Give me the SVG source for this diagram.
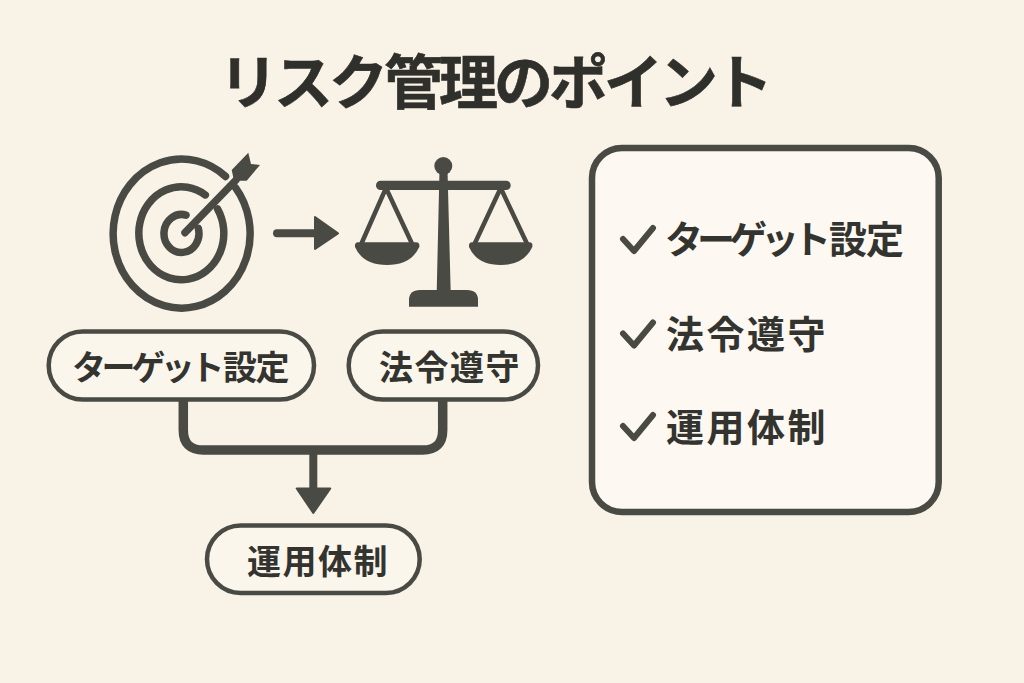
<svg xmlns="http://www.w3.org/2000/svg" width="1024" height="683" viewBox="0 0 1024 683">
<style>
text{font-family:"Noto Sans CJK JP","Noto Sans CJK SC",sans-serif;font-weight:700;fill:#33332f}
.title{font-size:59px;font-weight:700;letter-spacing:-4px;fill:#2f2f2b;stroke:#2f2f2b;stroke-width:.6}
.pt{font-size:34px}
.lt{font-size:38px}
.pill{fill:#fbf6ec;stroke:#4a4a45;stroke-width:4.5}
.ink{fill:#4a4a45}
.line{fill:none;stroke:#4a4a45;stroke-linecap:round;stroke-linejoin:round}
.ring{fill:none;stroke:#4a4a45;stroke-width:7.5;stroke-linecap:round}
</style>
<rect width="1024" height="683" fill="#f9f3e7"/>
<text id="title" class="title" x="219" y="104">リスク管理のポイント</text>
<g id="target-icon">
<path class="ring" d="M225.5 176.4A68.5 74.5 0 1 0 235.5 187.6"/>
<path class="ring" d="M205.3 194.9A42.5 46.5 0 1 0 217.5 208.9"/>
<path class="ring" d="M186 215.1A17.5 19 0 1 0 198.3 228.3"/>
<path class="line" stroke-width="7.5" d="M185 232.7L236 180"/>
<path class="ink" d="M248.3 152.7L251 164L260 165L246.7 180.7L234 180.7L231.7 170Z"/>
</g>
<g id="scale-icon">
<circle class="ink" cx="443.3" cy="166" r="9"/>
<path class="ink" d="M439.5 170H447.5L450.7 292H436.7Z"/>
<rect class="ink" x="376" y="180.7" width="134.7" height="9.3" rx="4.6"/>
<path class="ink" d="M409 306.7V300Q409 290 420 290H467Q478 290 478 300V306.7Z"/>
<path class="line" stroke-width="4.5" d="M361.7 243L386 188L411.7 243"/>
<path class="line" stroke-width="4.5" d="M475 243L500.7 188L526.7 243"/>
<path class="ink" d="M358 242.3H416Q420 242.3 419.3 247Q411 265 387 265Q363 265 355 247Q354.5 242.3 358 242.3Z"/>
<path class="ink" d="M472 242.3H529.5Q533 242.3 532.3 247Q524 265 500.7 265Q477 265 469 247Q468.5 242.3 472 242.3Z"/>
</g>
<g id="connectors">
<g id="icon-arrow">
<path class="line" stroke-width="8" d="M277 233.3H318"/>
<path class="ink" stroke="#4a4a45" stroke-width="2" stroke-linejoin="round" d="M315 217L338 233.3L315 249Z"/>
</g>
<path class="line" stroke-width="9.5" d="M183.3 400V430Q183.3 450 203.3 450H422.7Q442.7 450 442.7 430V400" stroke-linecap="butt"/>
<path class="line" stroke-width="8" stroke-linecap="butt" d="M313.3 450V490"/>
<path class="ink" stroke="#4a4a45" stroke-width="2" stroke-linejoin="round" d="M296.7 488.5H330.3L313.3 513Z"/>
</g>
<g id="node-target">
<rect class="pill" x="48.7" y="331.5" width="265.3" height="68" rx="34"/>
<text class="pt" x="72" y="380"><tspan letter-spacing="-4.4">ターゲット</tspan><tspan dx="3" letter-spacing="-1.5">設定</tspan></text>
</g>
<g id="node-law">
<rect class="pill" x="348.7" y="331.5" width="189.3" height="68" rx="34"/>
<text class="pt" x="379" y="380" letter-spacing="1.5">法令遵守</text>
</g>
<g id="node-ops">
<rect class="pill" x="207" y="525.5" width="212.7" height="67.5" rx="33.7"/>
<text class="pt" x="247" y="574" letter-spacing="1.5">運用体制</text>
</g>
<g id="panel">
<rect x="592" y="148" width="346.7" height="364" rx="30" fill="#fdf8f1" stroke="#4a4a45" stroke-width="6.5"/>
<path class="line" stroke-width="6" d="M623 239L634 251L653 228"/>
<text class="lt" x="665" y="253"><tspan letter-spacing="-6">ターゲット</tspan><tspan dx="4" letter-spacing="-1">設定</tspan></text>
<path class="line" stroke-width="6" d="M623 333.5L634 345.5L653 322.5"/>
<text class="lt" x="666" y="348" letter-spacing="2.5">法令遵守</text>
<path class="line" stroke-width="6" d="M623 426L634 438L653 415"/>
<text class="lt" x="666" y="441" letter-spacing="2.5">運用体制</text>
</g>
</svg>
